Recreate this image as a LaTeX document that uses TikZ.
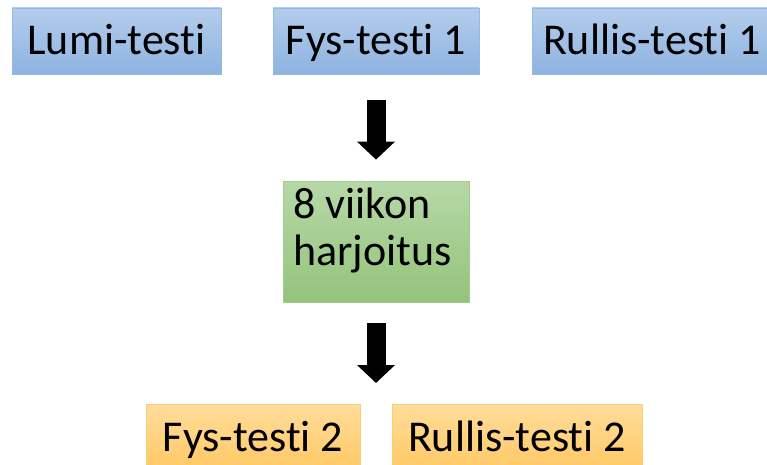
\documentclass[tikz,border=0pt]{standalone}
\usepackage{fontspec}
\setmainfont{Carlito}[Ligatures={NoCommon}]
\usetikzlibrary{arrows.meta}
\definecolor{bluetop}{RGB}{180,205,236}
\definecolor{bluebot}{RGB}{141,179,224}
\definecolor{blueedge}{RGB}{150,185,228}
\definecolor{greentop}{RGB}{182,216,166}
\definecolor{greenbot}{RGB}{148,196,124}
\definecolor{greenedge}{RGB}{160,204,140}
\definecolor{orangetop}{RGB}{255,221,155}
\definecolor{orangebot}{RGB}{255,200,100}
\definecolor{orangeedge}{RGB}{250,205,120}
\tikzset{
  boxtext/.style={font=\fontsize{44}{47}\selectfont, text height=30pt, text depth=2pt, inner sep=0pt},
  bluebox/.style={boxtext, rectangle, draw=blueedge, line width=0.8pt, top color=bluetop, bottom color=bluebot, minimum height=66pt},
  greenbox/.style={rectangle, draw=greenedge, line width=0.8pt, top color=greentop, bottom color=greenbot, minimum width=186pt, minimum height=121pt, inner sep=0pt},
  orangebox/.style={boxtext, rectangle, draw=orangeedge, line width=0.8pt, top color=orangetop, bottom color=orangebot, minimum height=67pt},
  linetext/.style={font=\fontsize{44}{47}\selectfont, inner sep=0pt, anchor=base west},
  fatarrow/.style={line width=19pt, -{Triangle[width=37pt,length=18pt]}}
}
\begin{document}
\begin{tikzpicture}[x=1pt,y=-1pt]
\useasboundingbox (0,0) rectangle (767,465);
\clip (0,0) rectangle (767,465);
\node[bluebox, minimum width=209pt] (lumi) at (116.5,41) {Lumi-testi};
\node[bluebox, minimum width=206pt] (fys1) at (376,41) {Fys-testi 1};
\node[bluebox, minimum width=240pt] (rullis1) at (652,41) {Rullis-testi 1};
\node[greenbox] (train) at (376,241.5) {};
\node[linetext] (t1) at (293,218) {8 viikon};
\node[linetext] (t2) at (293,265) {harjoitus};
\node[orangebox, minimum width=214pt] (fys2) at (253,437.5) {Fys-testi 2};
\node[orangebox, minimum width=250pt] (rullis2) at (517,437.5) {Rullis-testi 2};
\coordinate (gap) at (376,404);
\draw[fatarrow, shorten <=26pt, shorten >=21pt] (fys1.south) -- (train.north);
\draw[fatarrow, shorten <=21pt, shorten >=21pt] (train.south) -- (gap);
\end{tikzpicture}
\end{document}
